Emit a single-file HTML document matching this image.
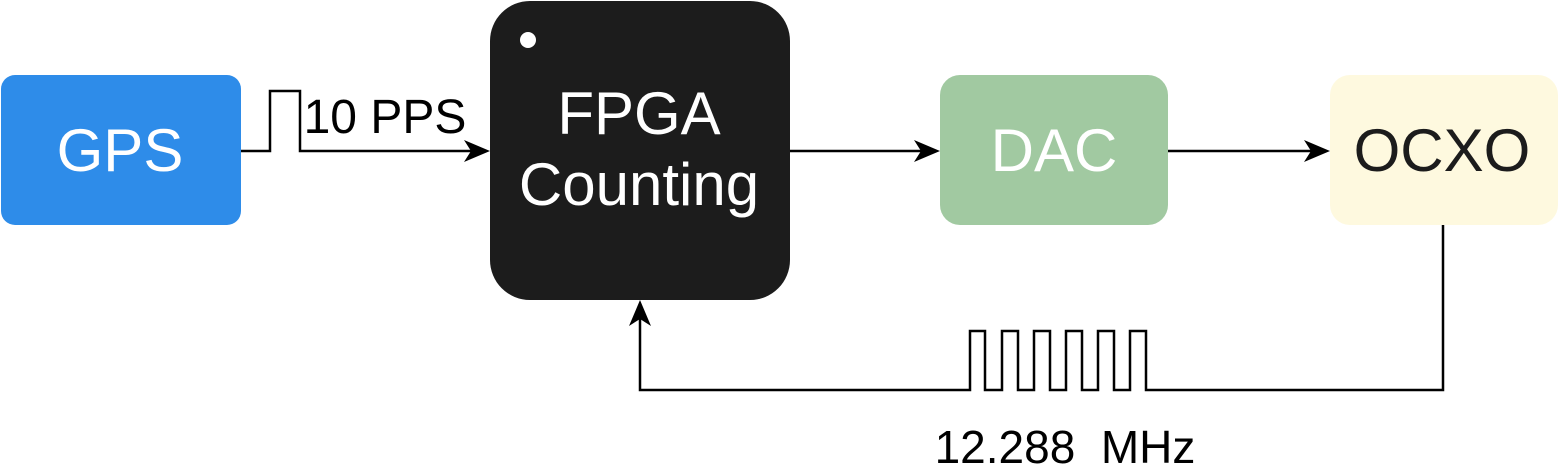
<!DOCTYPE html>
<html><head><style>
html,body{margin:0;padding:0;background:#fff;}
svg{display:block;}
text{font-family:"Liberation Sans",Arial,sans-serif;}
</style></head><body>
<svg width="1558" height="465" viewBox="0 0 1558 465" xmlns="http://www.w3.org/2000/svg">
<rect x="1" y="75" width="240" height="150" rx="14" fill="#2e8ce9"/>
<text x="120" y="171" font-size="60" fill="#fff" text-anchor="middle">GPS</text>
<rect x="490" y="1" width="300" height="299" rx="40" fill="#1c1c1c"/>
<circle cx="528" cy="40" r="8" fill="#fff"/>
<text x="639" y="134" font-size="60" fill="#fff" text-anchor="middle">FPGA</text>
<text x="639" y="205" font-size="60" fill="#fff" text-anchor="middle">Counting</text>
<rect x="940" y="75" width="228" height="150" rx="20" fill="#a1c9a1"/>
<text x="1054" y="171" font-size="60" fill="#fff" text-anchor="middle">DAC</text>
<rect x="1330" y="75" width="228" height="150" rx="20" fill="#fef9df"/>
<text x="1442" y="171" font-size="60" fill="#1c1c1c" text-anchor="middle">OCXO</text>
<g fill="none" stroke="#000" stroke-width="2.5">
<polyline points="241,151 270,151 270,91 300,91 300,151 472,151"/>
<line x1="790" y1="151" x2="922" y2="151"/>
<line x1="1168" y1="151" x2="1312" y2="151"/>
<polyline points="1443,225 1443,390 1146,390 1146,331 1130,331 1130,390 1114,390 1114,331 1098,331 1098,390 1082,390 1082,331 1066,331 1066,390 1050,390 1050,331 1034,331 1034,390 1018,390 1018,331 1002,331 1002,390 985,390 985,331 970,331 970,390 640,390 640,318"/>
</g>
<g fill="#000">
<path d="M490,151 L464,140 L471,151 L464,162 Z"/>
<path d="M940,151 L914,140 L921,151 L914,162 Z"/>
<path d="M1330,151 L1304,140 L1311,151 L1304,162 Z"/>
<path d="M640,300 L629,326 L640,319 L651,326 Z"/>
</g>
<text x="385" y="133" font-size="48" fill="#000" text-anchor="middle">10 PPS</text>
<text x="1065" y="463" font-size="46" fill="#000" text-anchor="middle">12.288&#160; MHz</text>
</svg>
</body></html>
